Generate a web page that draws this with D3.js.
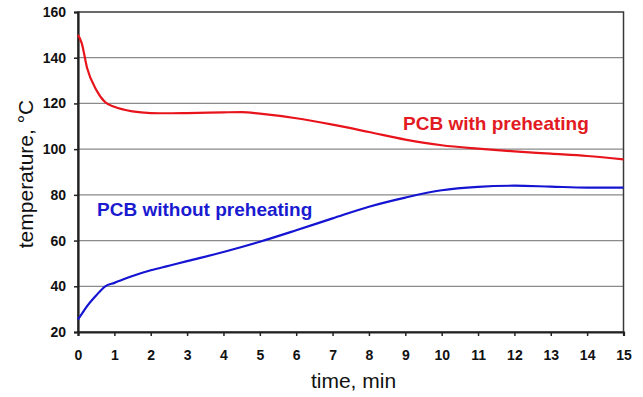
<!DOCTYPE html>
<html>
<head>
<meta charset="utf-8">
<script src="https://cdn.jsdelivr.net/npm/d3@7"></script>
<style>
body { margin: 0; background: #fff; }
text { font-family: Arial, "Liberation Sans", sans-serif; }
</style>
</head>
<body>
<div id="grafica"></div>
<script>
// tiempo en minutos
var tiempo = [0, 0.1, 0.25, 0.5, 0.75, 1, 1.5, 2, 2.5, 3, 4, 4.5, 5, 6, 7, 8, 9, 10, 11, 12, 13, 14, 15];
var conPrecalentado = [150, 146.5, 135.5, 126, 120.5, 118.5, 116.5, 115.8, 115.7, 115.8, 116.1, 116.2, 115.5, 113.5, 110.7, 107.5, 104.2, 101.7, 100.2, 99, 98, 97, 95.5];
var sinPrecalentado = [25.5, 27.8, 31.3, 36, 40, 41.5, 44.5, 47, 49, 51, 55, 57.2, 59.5, 64.5, 69.7, 74.8, 78.8, 82, 83.5, 84, 83.6, 83.2, 83.2];
var ticksX = [0, 1, 2, 3, 4, 5, 6, 7, 8, 9, 10, 11, 12, 13, 14, 15];
var ticksY = [20, 40, 60, 80, 100, 120, 140, 160];

var w = 643;
var h = 397;
var m = { izq: 78, der: 623.5, arr: 12, aba: 332 };

var svg = d3.select('#grafica')
	.append('svg')
	.attr("width", w)
	.attr("height", h);

var x = d3.scaleLinear().domain([0, 15]).range([m.izq, m.der]);
var y = d3.scaleLinear().domain([20, 160]).range([m.aba, m.arr]);

// lineas de cuadricula
svg.selectAll("line.grid")
	.data(ticksY.slice(1, -1))
	.enter()
	.append("line")
	.attr("class", "grid")
	.attr("x1", m.izq)
	.attr("x2", m.der)
	.attr("y1", function (d) { return y(d); })
	.attr("y2", function (d) { return y(d); })
	.style("stroke", "#8a8a8a")
	.style("stroke-width", 1.3);

// marco
svg.append("rect")
	.attr("x", m.izq)
	.attr("y", m.arr)
	.attr("width", m.der - m.izq)
	.attr("height", m.aba - m.arr)
	.style("fill", "none")
	.style("stroke", "#3a3a3a")
	.style("stroke-width", 1.5);

var ejeX = svg.append("g")
	.attr("transform", "translate(0," + m.aba + ")")
	.call(d3.axisBottom(x).tickValues(ticksX).tickSize(4).tickPadding(14));
var ejeY = svg.append("g")
	.attr("transform", "translate(" + m.izq + ",0)")
	.call(d3.axisLeft(y).tickValues(ticksY).tickSize(4).tickPadding(8));

[ejeX, ejeY].forEach(function (g) {
	g.select(".domain").style("stroke", "#222").style("stroke-width", 2.2);
	g.selectAll(".tick line").style("stroke", "#222").style("stroke-width", 1.5);
	g.selectAll(".tick text")
		.style("font-family", "Arial, 'Liberation Sans', sans-serif")
		.style("font-size", "14px")
		.style("font-weight", "bold")
		.style("fill", "#111");
});

var linea = d3.line()
	.x(function (d, i) { return x(tiempo[i]); })
	.y(function (d) { return y(d); })
	.curve(d3.curveMonotoneX);

svg.append("path")
	.datum(conPrecalentado)
	.attr("d", linea)
	.style("fill", "none")
	.style("stroke", "#e8141c")
	.style("stroke-width", 2.2);

svg.append("path")
	.datum(sinPrecalentado)
	.attr("d", linea)
	.style("fill", "none")
	.style("stroke", "#1414d2")
	.style("stroke-width", 2.2);

svg.append("text")
	.attr("x", 403)
	.attr("y", 130)
	.text("PCB with preheating")
	.style("font-size", "19px")
	.style("font-weight", "bold")
	.style("fill", "#e21a22");

svg.append("text")
	.attr("x", 97)
	.attr("y", 216)
	.text("PCB without preheating")
	.style("font-size", "19px")
	.style("font-weight", "bold")
	.style("fill", "#1a1ad0");

svg.append("text")
	.attr("x", 353.5)
	.attr("y", 388)
	.attr("text-anchor", "middle")
	.text("time, min")
	.style("font-size", "21px")
	.style("fill", "#111");

svg.append("text")
	.attr("transform", "translate(33,174) rotate(-90)")
	.attr("text-anchor", "middle")
	.text("temperature, °C")
	.style("font-size", "21px")
	.style("fill", "#111");
</script>
</body>
</html>
